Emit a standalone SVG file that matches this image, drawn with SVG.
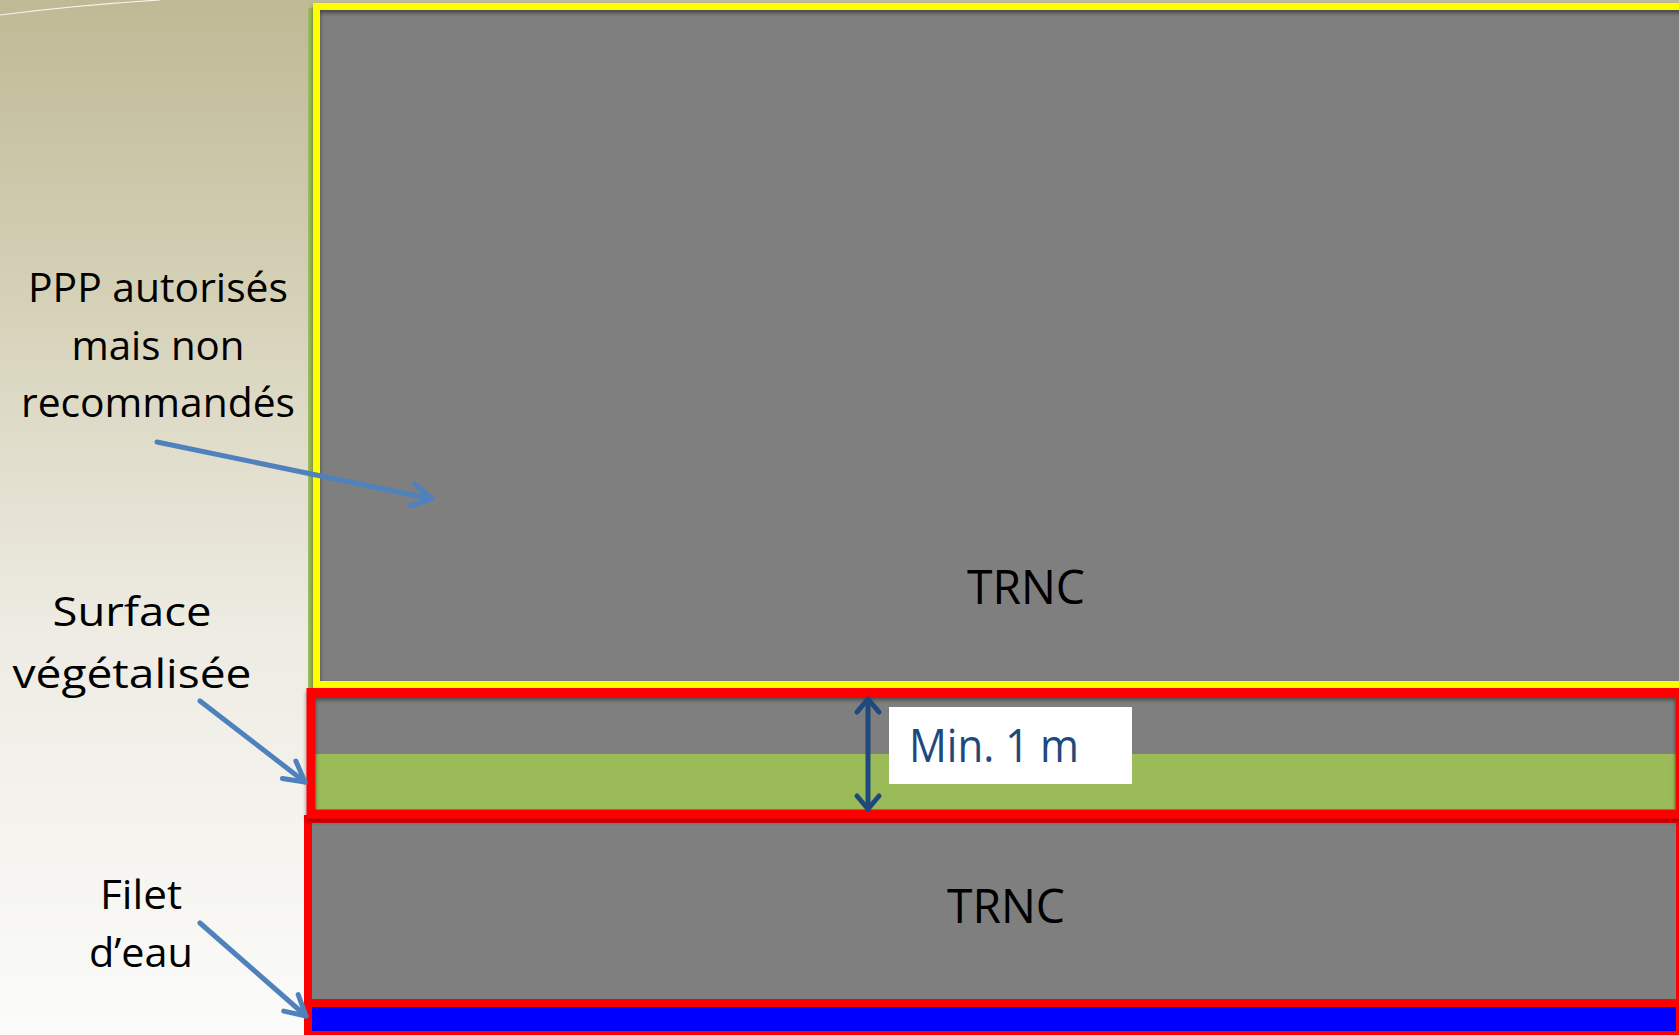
<svg xmlns="http://www.w3.org/2000/svg" width="1679" height="1035" viewBox="0 0 1679 1035">
<style>
.lbl{font-family:"Open Sans","Liberation Sans",sans-serif;font-size:40px;fill:#000;text-anchor:middle}
.big{font-family:"Open Sans","Liberation Sans",sans-serif;font-size:48px;fill:#000;text-anchor:middle}
.min{font-family:"Open Sans","Liberation Sans",sans-serif;font-size:46px;fill:#1F497D}
.gray{fill:#7F7F7F}
.frame{fill:none;stroke-linejoin:miter}
.conn{fill:none;stroke:#4F81BD;stroke-width:5;stroke-linecap:round}
.dim{fill:none;stroke:#1F497D;stroke-width:5;stroke-linecap:round}
</style>
<defs>
<linearGradient id="bg" x1="0" y1="0" x2="0" y2="1">
<stop offset="0" stop-color="#BFB995"/>
<stop offset="0.3" stop-color="#D6D2B9"/>
<stop offset="0.6" stop-color="#EDEBE2"/>
<stop offset="1" stop-color="#FBFBFA"/>
</linearGradient>
<filter id="sh" x="-5%" y="-5%" width="110%" height="120%">
<feDropShadow dx="0" dy="3" stdDeviation="2" flood-color="#000" flood-opacity="0.45"/>
</filter>
<marker id="ah" markerUnits="userSpaceOnUse" markerWidth="40" markerHeight="40" viewBox="-30 -20 40 40" refX="0" refY="0" orient="auto" overflow="visible">
<path d="M -20 -11 L 0 0 L -20 11" fill="none" stroke="#4F81BD" stroke-width="5" stroke-linecap="round" stroke-linejoin="round"/>
</marker>
<marker id="dh" markerUnits="userSpaceOnUse" markerWidth="40" markerHeight="40" viewBox="-30 -20 40 40" refX="0" refY="0" orient="auto-start-reverse" overflow="visible">
<path d="M -13 -11 L 0 0 L -13 11" fill="none" stroke="#1F497D" stroke-width="5" stroke-linecap="round" stroke-linejoin="round"/>
</marker>
</defs>
<rect x="0" y="0" width="1679" height="1035" fill="url(#bg)"/>
<path d="M 0 15 Q 80 5 160 0" fill="none" stroke="#FFFFFF" stroke-opacity="0.85" stroke-width="1.2"/>

<g id="zone-ppp">
<rect x="308" y="8" width="8" height="680" fill="#9BBB59"/>
<rect class="gray" x="316" y="6" width="1370" height="679"/>
<rect class="frame" x="316.5" y="6.5" width="1400" height="678" stroke="#FFFF00" stroke-width="7" filter="url(#sh)"/>
<text class="big" x="1026" y="604" textLength="118" lengthAdjust="spacingAndGlyphs">TRNC</text>
</g>

<g id="zone-vegetal">
<rect class="gray" x="311" y="692" width="1372" height="62"/>
<rect x="311" y="754" width="1372" height="57" fill="#9BBB59"/>
</g>

<g id="zone-trnc2">
<rect class="gray" x="308" y="819" width="1372" height="184"/>
<rect class="frame" x="308" y="819" width="1372" height="184" stroke="#FF0000" stroke-width="8"/>
<text class="big" x="1006" y="923" textLength="118" lengthAdjust="spacingAndGlyphs">TRNC</text>
</g>

<g id="zone-filet">
<rect x="308" y="1003" width="1372" height="32" fill="#0000FF" stroke="#FF0000" stroke-width="8"/>
</g>

<g id="zone-vegetal-frame">
<rect class="frame" x="311" y="692.5" width="1369" height="121.5" stroke="#FF0000" stroke-width="9" filter="url(#sh)"/>
</g>

<g id="label-min">
<rect x="889" y="707" width="243" height="77" fill="#FFFFFF"/>
<text class="min" x="909" y="762" textLength="170" lengthAdjust="spacingAndGlyphs">Min. 1 m</text>
</g>

<g id="label-ppp">
<text class="lbl" x="158" y="302" textLength="260" lengthAdjust="spacingAndGlyphs">PPP autorisés</text>
<text class="lbl" x="158" y="360" textLength="173" lengthAdjust="spacingAndGlyphs">mais non</text>
<text class="lbl" x="158" y="417" textLength="274" lengthAdjust="spacingAndGlyphs">recommandés</text>
</g>

<g id="label-surface">
<text class="lbl" x="132" y="626" textLength="159" lengthAdjust="spacingAndGlyphs">Surface</text>
<text class="lbl" x="132" y="688" textLength="239" lengthAdjust="spacingAndGlyphs">végétalisée</text>
</g>

<g id="label-filet">
<text class="lbl" x="141" y="909" textLength="82" lengthAdjust="spacingAndGlyphs">Filet</text>
<text class="lbl" x="141" y="967" textLength="104" lengthAdjust="spacingAndGlyphs">d’eau</text>
</g>

<g id="connectors">
<line class="conn" x1="157" y1="442" x2="432" y2="499" marker-end="url(#ah)"/>
<line class="conn" x1="200" y1="701" x2="305" y2="782" marker-end="url(#ah)"/>
<line class="conn" x1="200" y1="923" x2="306" y2="1016" marker-end="url(#ah)"/>
<line class="dim" x1="868" y1="699" x2="868" y2="809" marker-start="url(#dh)" marker-end="url(#dh)"/>
</g>
</svg>
